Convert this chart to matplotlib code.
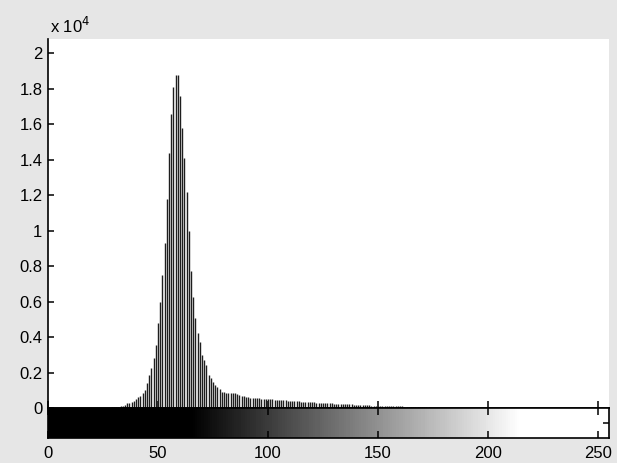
import numpy as np
import matplotlib.pyplot as plt
from matplotlib.colors import Normalize

plt.rcParams['font.family'] = ['Liberation Sans', 'DejaVu Sans']

# histogram counts (grey levels 29..173, rest are zero)
first_bin = 29
counts_nonzero = [
    30, 60, 70, 80, 100, 130, 180, 260, 300, 360,            # 29-38
    420, 500, 600, 700, 850, 1000, 1390, 1860, 2230, 2800,   # 39-48
    3550, 4770, 6000, 7500, 9300, 11800, 14400, 16600, 18100, 18760,  # 49-58
    18760, 17600, 15800, 14100, 12200, 10000, 7700, 6270, 5100, 4200,  # 59-68
    3700, 3000, 2700, 2400, 1860, 1700, 1480, 1300, 1200, 1050,  # 69-78
    920, 880, 860, 850, 860, 850, 830, 800, 760, 700,        # 79-88
    650, 620, 600, 580, 570, 560, 550, 540, 530, 515,        # 89-98
    505, 500, 490, 480, 470, 460, 455, 445, 440, 430,        # 99-108
    420, 410, 400, 390, 380, 370, 360, 350, 345, 340,        # 109-118
    330, 320, 315, 305, 300, 290, 285, 280, 270, 265,        # 119-128
    260, 250, 245, 240, 235, 225, 220, 215, 210, 200,        # 129-138
    195, 190, 180, 175, 170, 160, 155, 150, 140, 135,        # 139-148
    130, 125, 120, 115, 110, 105, 100, 95, 95, 90,           # 149-158
    90, 85, 85, 80, 75, 75, 70, 65, 60, 60,                  # 159-168
    55, 50, 45, 40, 30,                                      # 169-173
]
counts = np.zeros(256)
counts[first_bin:first_bin + len(counts_nonzero)] = counts_nonzero
levels = np.arange(256)

ytick_vals = [0, 2000, 4000, 6000, 8000, 10000, 12000, 14000, 16000, 18000, 20000]
ytick_labels = ['0', '0.2', '0.4', '0.6', '0.8', '1', '1.2', '1.4', '1.6', '1.8', '2']
xtick_vals = [0, 50, 100, 150, 200, 250]

W, H = 617, 463
fig = plt.figure(figsize=(W / 100, H / 100), dpi=100)
fig.set_facecolor('#e6e6e6')

left, right = 48, 609
ax = fig.add_axes([left / W, (H - 408) / H, (right - left) / W, (408 - 39) / H])
cax = fig.add_axes([left / W, (H - 438) / H, (right - left) / W, 30 / H])

# stem part
ax.vlines(levels[counts > 0], 0, counts[counts > 0], color='#1e1e1e', lw=1.0)
ax.set_xlim(0, 255)
ax.set_ylim(0, 20800)
ax.set_facecolor('white')
for s in ['top', 'right']:
    ax.spines[s].set_visible(False)
ax.spines['left'].set_linewidth(1.2)
ax.spines['bottom'].set_linewidth(1.2)
ax.set_yticks(ytick_vals)
ax.set_yticklabels(ytick_labels)
ax.set_xticks(xtick_vals)
ax.set_xticklabels([])
ax.tick_params(axis='y', direction='in', length=4, width=1.1, pad=4, labelsize=12)
ax.tick_params(axis='x', direction='in', length=5, width=1.1)
ax.text(0.003, 1.008, r'x 10$^4$', transform=ax.transAxes, fontsize=12,
        ha='left', va='bottom')

# grey level bar underneath
ramp = levels.reshape(1, -1)
cax.imshow(ramp, cmap='gray', norm=Normalize(65, 215), aspect='auto',
           extent=(0, 255, 0, 1), interpolation='nearest')
cax.set_xlim(0, 255)
cax.set_ylim(0, 1)
for s in cax.spines.values():
    s.set_linewidth(1.2)
cax.set_xticks(xtick_vals)
cax.set_yticks([0.5])
cax.set_yticklabels([])
cax.tick_params(axis='x', direction='in', top=True, bottom=True, length=5,
                width=1.1, pad=6, labelsize=12)
cax.tick_params(axis='y', direction='in', left=False, right=True, length=4, width=1.1)

fig.savefig('out.png', dpi=100, facecolor=fig.get_facecolor())
